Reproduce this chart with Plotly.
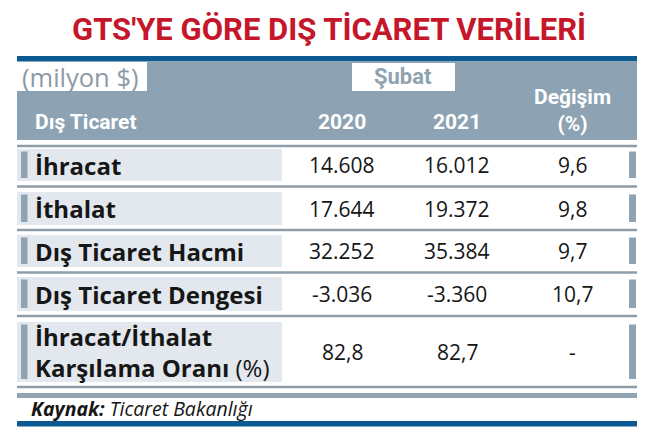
import plotly.graph_objects as go

# table content
title = "GTS'YE GÖRE DIŞ TİCARET VERİLERİ"
unit_label = "(milyon $)"
period_label = "Şubat"
col_headers = ["Dış Ticaret", "2020", "2021", "Değişim<br>(%)"]
row_labels = ["İhracat", "İthalat", "Dış Ticaret Hacmi", "Dış Ticaret Dengesi",
              "İhracat/İthalat<br>Karşılama Oranı (%)"]
vals_2020 = ["14.608", "17.644", "32.252", "-3.036", "82,8"]
vals_2021 = ["16.012", "19.372", "35.384", "-3.360", "82,7"]
change_pct = ["9,6", "9,8", "9,7", "10,7", "-"]
source = "Ticaret Bakanlığı"

W, H = 645, 436
OFF = 8  # the page body margin shifts the figure by 8px
X0, X1 = 17, 637
BLUE = "#0d5a92"
HEAD = "#8da3b3"
LIGHT = "#e3e8ee"
LINE = "#8e9ea9"
RED = "#c5162a"
TXT = "#161616"
COND = "Roboto"
BODY = "Open Sans"

# row vertical bounds (pixels from top)
row_tops = [149, 192, 235, 277, 322]
row_bots = [181, 225, 267, 311, 382]
seps = [146, 186.5, 230, 272.5, 316, 387]
col_x = [342, 457, 572]

fig = go.Figure()
shapes = []
ann = []


def rect(x0, y0, x1, y1, color):
    shapes.append(dict(type="rect", x0=x0, x1=x1, y0=y0, y1=y1,
                       fillcolor=color, line=dict(width=0), layer="below"))


# title
ann.append(dict(x=329, y=29, text="<b>" + title + "</b>", showarrow=False,
                font=dict(family=COND, size=31, color=RED)))

# header block
rect(X0, 56, X1, 61.5, BLUE)
rect(X0, 61.5, X1, 140, HEAD)
rect(X0, 62, 147, 91, "white")
rect(352, 63, 455, 91, "white")
ann.append(dict(x=20, y=77, text=unit_label, xanchor="left", showarrow=False,
                font=dict(family=BODY, size=25.5, color="#8b9aa6")))
ann.append(dict(x=403, y=76, text="<b>" + period_label + "</b>", showarrow=False,
                font=dict(family=COND, size=22, color="#8fa2b0")))
hx = [33] + col_x
for i, h in enumerate(col_headers):
    ann.append(dict(x=hx[i], y=122 if i < 3 else 110, text="<b>" + h + "</b>",
                    xanchor="left" if i == 0 else "center", showarrow=False,
                    font=dict(family=COND, size=21, color="white")))

# separators
for s in seps:
    rect(X0, s - 1.3, X1, s + 1.3, LINE)
rect(X0, 393, X1, 398, "#93a5b2")
rect(X0, 421, X1, 426.5, BLUE)

# body rows
for i, lab in enumerate(row_labels):
    t, b = row_tops[i], row_bots[i]
    rect(X0, t, 282, b, LIGHT)
    rect(21, t + 2.5, 27.5, b - 3, "#8fa3b2")
    rect(629, t + 2.5, 636, b - 3, "#8fa3b2")
    ym = (t + b) / 2
    if "<br>" in lab:
        a, c = lab.split("<br>")
        c = c.replace(" (%)", "")
        txt = "<b>" + a + "</b><br><b>" + c + "</b> (%)"
    else:
        txt = "<b>" + lab + "</b>"
    ann.append(dict(x=33, y=ym, text=txt, xanchor="left", align="left", showarrow=False,
                    font=dict(family=BODY, size=24, color=TXT)))
    for cx, v in zip(col_x, [vals_2020[i], vals_2021[i], change_pct[i]]):
        ann.append(dict(x=cx, y=ym, text=v, showarrow=False,
                        font=dict(family=BODY, size=21, color=TXT)))

# source
ann.append(dict(x=29, y=408, text="<b><i>Kaynak:</i></b><i> " + source + "</i>",
                xanchor="left", showarrow=False,
                font=dict(family=BODY, size=19.5, color=TXT)))

for a in ann:
    a.update(xref="x", yref="y")

fig.update_layout(
    width=W - OFF, height=H - OFF,
    margin=dict(l=0, r=0, t=0, b=0),
    paper_bgcolor="white", plot_bgcolor="white",
    xaxis=dict(range=[OFF, W], visible=False, fixedrange=True),
    yaxis=dict(range=[H, OFF], visible=False, fixedrange=True),
    shapes=shapes, annotations=ann,
    showlegend=False,
)

fig.write_html("out.html")
